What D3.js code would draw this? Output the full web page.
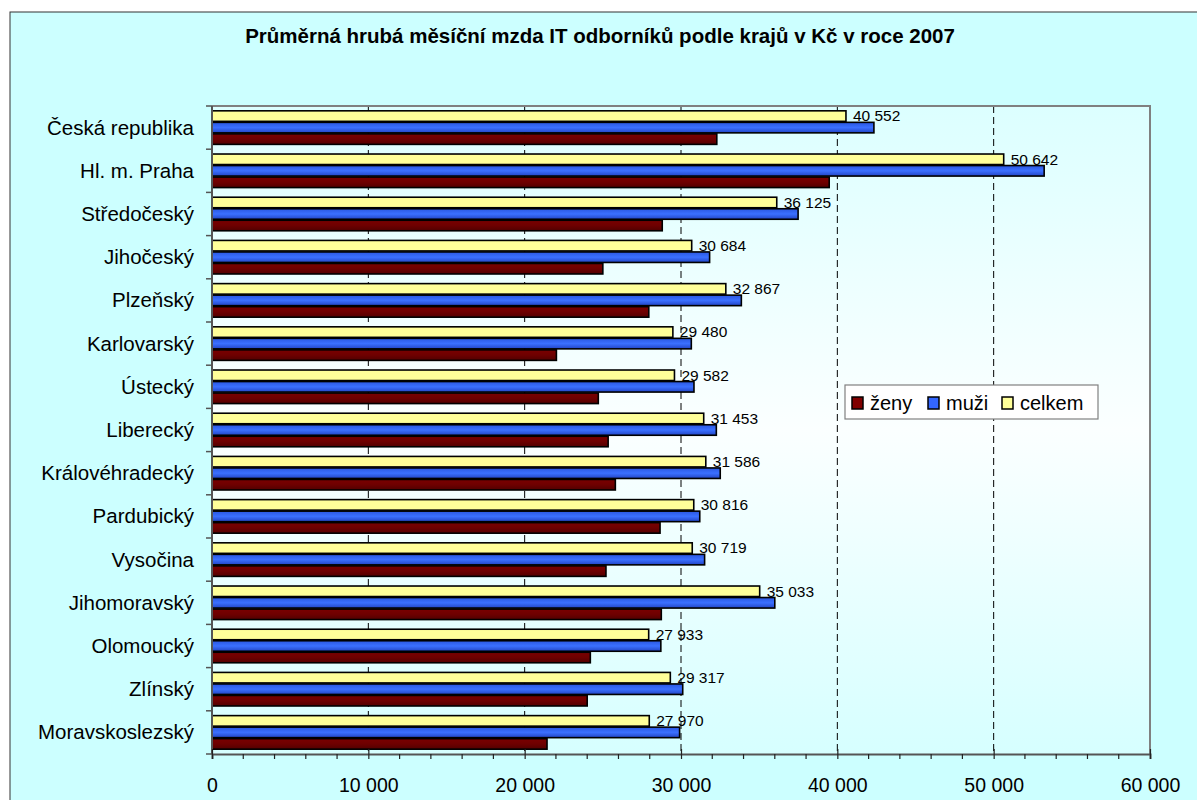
<!DOCTYPE html>
<html><head><meta charset="utf-8">
<script src="https://cdn.jsdelivr.net/npm/d3@7"></script>
<style>body{margin:0;background:#fff}svg{display:block;font-family:"Liberation Sans",Arial,sans-serif}</style>
</head><body><svg id="c" width="1197" height="800"></svg>
<script>
const categories = ["Česká republika","Hl. m. Praha","Středočeský","Jihočeský","Plzeňský","Karlovarský","Ústecký","Liberecký","Královéhradecký","Pardubický","Vysočina","Jihomoravský","Olomoucký","Zlínský","Moravskoslezský"];
const celkem = [40552,50642,36125,30684,32867,29480,29582,31453,31586,30816,30719,35033,27933,29317,27970];
const muzi = [42340,53230,37490,31830,33860,30660,30830,32260,32510,31200,31510,36000,28710,30110,29910];
const zeny = [32290,39480,28800,25000,27940,22030,24710,25340,25800,28660,25200,28740,24200,24000,21430];
const seriesNames = ["ženy","muži","celkem"];
const xTicks = [0,10000,20000,30000,40000,50000,60000];
const title = "Průměrná hrubá měsíční mzda IT odborníků podle krajů v Kč v roce 2007";

const svg = d3.select("#c");
const W = 1197, H = 800;
const L = 212, R = 1150, T = 106, B = 754;

const defs = svg.append("defs");
const pg = defs.append("linearGradient").attr("id","plotbg").attr("x1",0).attr("y1",0).attr("x2",0).attr("y2",1);
pg.append("stop").attr("offset","0%").attr("stop-color","#dcffff");
pg.append("stop").attr("offset","50%").attr("stop-color","#fbffff");
pg.append("stop").attr("offset","100%").attr("stop-color","#d6ffff");
function grad(id, c1, c2, c3){
  const g = defs.append("linearGradient").attr("id",id).attr("x1",0).attr("y1",0).attr("x2",0).attr("y2",1);
  g.append("stop").attr("offset","0%").attr("stop-color",c1);
  g.append("stop").attr("offset","50%").attr("stop-color",c2);
  g.append("stop").attr("offset","100%").attr("stop-color",c3);
}
grad("gM","#2a57e0","#3b70ff","#2244c4");
grad("gZ","#7a0000","#6e0000","#520000");
grad("gC","#ffff99","#ffff99","#ffff99");
const fills = {"celkem":"url(#gC)","muži":"url(#gM)","ženy":"url(#gZ)"};
const swatch = {"celkem":"#ffff99","muži":"#3366ff","ženy":"#800000"};

svg.append("rect").attr("x",10).attr("y",12).attr("width",W-10+5).attr("height",H-12+5)
  .attr("fill","#ccffff").attr("stroke","#333").attr("stroke-width",1);

svg.append("text").attr("x",600).attr("y",42.5).attr("text-anchor","middle")
  .attr("font-weight","bold").attr("font-size",20.5).text(title);

const x = d3.scaleLinear().domain([0,60000]).range([L,R]);
const y = d3.scaleBand().domain(categories).range([T,B]).paddingInner(0.2).paddingOuter(0.1);
const yb = d3.scaleBand().domain(categories).range([T,B]).padding(0);
const inner = d3.scaleBand().domain(["celkem","muži","ženy"]).range([0,y.bandwidth()]);

svg.append("rect").attr("x",L).attr("y",T).attr("width",R-L).attr("height",B-T).attr("fill","url(#plotbg)");

svg.append("g").selectAll("line").data(xTicks.filter(d=>d>0 && d<60000)).join("line")
  .attr("x1",d=>x(d)).attr("x2",d=>x(d)).attr("y1",T).attr("y2",B)
  .attr("stroke","#000").attr("stroke-width",1).attr("stroke-dasharray","7,4");

svg.append("path").attr("d",`M${L},${T}H${R}V${B}`).attr("fill","none").attr("stroke","#808080").attr("stroke-width",2);

const rows = categories.map((c,i)=>({c, vals:{"celkem":celkem[i],"muži":muzi[i],"ženy":zeny[i]}}));
const g = svg.append("g");
rows.forEach(r=>{
  ["celkem","muži","ženy"].forEach(s=>{
    g.append("rect").attr("x",x(0)).attr("y",y(r.c)+inner(s)+0.5)
      .attr("width",x(r.vals[s])-x(0)).attr("height",inner.bandwidth()-1)
      .attr("fill",fills[s]).attr("stroke","#000").attr("stroke-width",1.6);
  });
  g.append("text").attr("x",x(r.vals["celkem"])+7).attr("y",y(r.c)+inner("celkem")+inner.bandwidth()-0.5)
    .attr("font-size",15.5).attr("fill","#000").text(d3.format(",")(r.vals["celkem"]).replace(/,/g," "));
});

const ya = svg.append("g");
ya.append("line").attr("x1",L).attr("x2",L).attr("y1",T).attr("y2",B).attr("stroke","#555").attr("stroke-width",2);
ya.selectAll("line.t").data(categories.concat(["__end"])).join("line").attr("class","t")
  .attr("x1",L-6).attr("x2",L).attr("y1",(d,i)=> i<categories.length ? yb(d) : B).attr("y2",(d,i)=> i<categories.length ? yb(d) : B)
  .attr("stroke","#555").attr("stroke-width",1.5);
ya.selectAll("text").data(categories).join("text")
  .attr("x",L-18).attr("y",d=>yb(d)+yb.bandwidth()/2+7).attr("text-anchor","end")
  .attr("font-size",20.5).text(d=>d);

const xa = svg.append("g").attr("transform",`translate(0,${B})`);
const axis = d3.axisBottom(x).tickValues(xTicks).tickSize(5).tickFormat(d=>d3.format(",")(d).replace(/,/g," "));
xa.call(axis);
xa.attr("font-size",19.5).attr("font-family","Liberation Sans, Arial, sans-serif");
xa.select(".domain").attr("stroke","#555").attr("stroke-width",2);
xa.selectAll(".tick line").attr("stroke","#222").attr("y1",-5).attr("y2",5).attr("stroke-width",1.2);
xa.selectAll(".tick text").attr("fill","#000").attr("y",38).attr("dy",null);
const minor = d3.range(0,60001,2000).filter(d=>d%10000!==0);
xa.append("g").selectAll("line").data(minor).join("line")
  .attr("x1",d=>x(d)).attr("x2",d=>x(d)).attr("y1",0).attr("y2",5).attr("stroke","#222").attr("stroke-width",1.2);

const lg = svg.append("g").attr("transform","translate(845,385)");
lg.append("rect").attr("width",253).attr("height",34).attr("fill","#fff").attr("stroke","#808080").attr("stroke-width",1.2);
const lx = [7,83,157];
seriesNames.forEach((s,i)=>{
  lg.append("rect").attr("x",lx[i]).attr("y",12).attr("width",11).attr("height",12).attr("fill",swatch[s]).attr("stroke","#000").attr("stroke-width",1.5);
  lg.append("text").attr("x",lx[i]+18).attr("y",25).attr("font-size",20).text(s);
});
</script></body></html>
